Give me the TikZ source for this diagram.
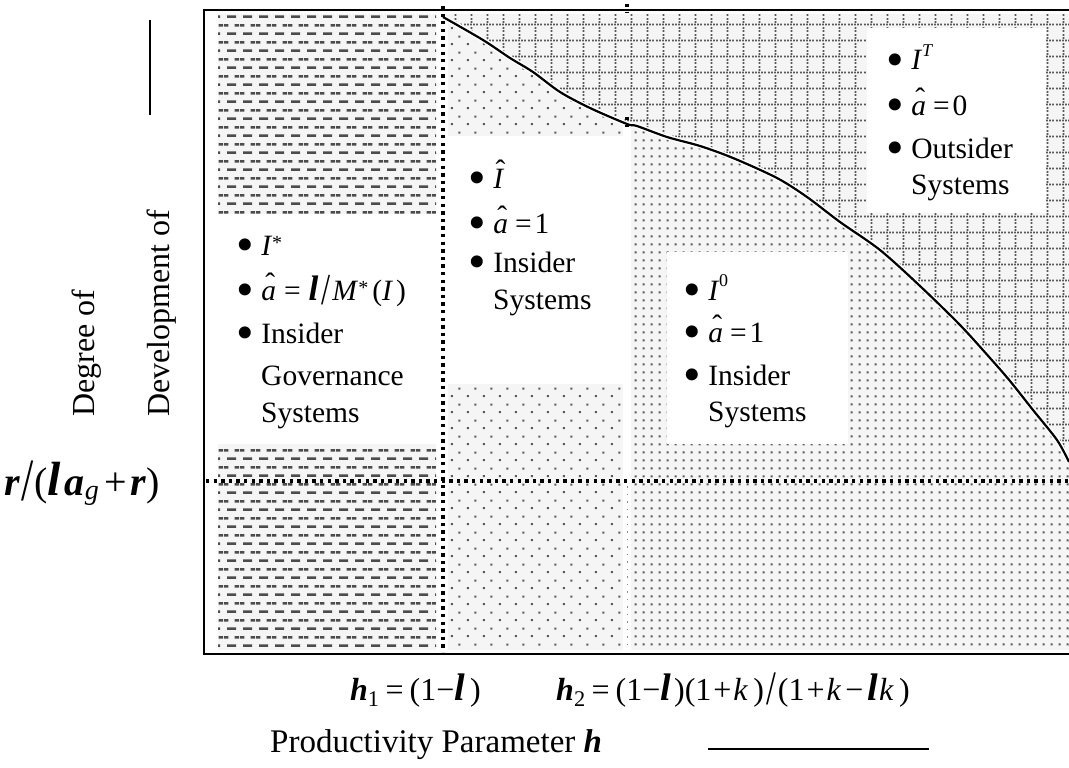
\documentclass[tikz,border=0pt]{standalone}
\usepackage{fontspec}
\setmainfont{Liberation Serif}
\usetikzlibrary{patterns}

\pgfdeclarepatternformonly{hdash}{\pgfpointorigin}{\pgfpoint{16pt}{17.4pt}}{\pgfpoint{16pt}{17.4pt}}{
 \pgfpathrectangle{\pgfpoint{3.25pt}{0pt}}{\pgfpoint{9.5pt}{2.6pt}}
 \pgfpathrectangle{\pgfpoint{0pt}{8.7pt}}{\pgfpoint{4.75pt}{2.6pt}}
 \pgfpathrectangle{\pgfpoint{11.25pt}{8.7pt}}{\pgfpoint{4.75pt}{2.6pt}}
 \pgfusepath{fill}}
\pgfdeclarepatternformonly{sdots}{\pgfpointorigin}{\pgfpoint{16pt}{16pt}}{\pgfpoint{16pt}{16pt}}{
 \pgfpathrectangle{\pgfpoint{3pt}{3pt}}{\pgfpoint{2.2pt}{2.2pt}}
 \pgfpathrectangle{\pgfpoint{11pt}{11pt}}{\pgfpoint{2.2pt}{2.2pt}}
 \pgfusepath{fill}}
\pgfdeclarepatternformonly{ddots}{\pgfpointorigin}{\pgfpoint{8pt}{8pt}}{\pgfpoint{8pt}{8pt}}{
 \pgfpathrectangle{\pgfpoint{3pt}{3pt}}{\pgfpoint{2.2pt}{2.2pt}}
 \pgfusepath{fill}}
\pgfdeclarepatternformonly{dgrid}{\pgfpointorigin}{\pgfpoint{16pt}{16pt}}{\pgfpoint{16pt}{16pt}}{
 \pgfpathrectangle{\pgfpoint{0pt}{7pt}}{\pgfpoint{2pt}{2pt}}
 \pgfpathrectangle{\pgfpoint{3.2pt}{7pt}}{\pgfpoint{2pt}{2pt}}
 \pgfpathrectangle{\pgfpoint{6.4pt}{7pt}}{\pgfpoint{2pt}{2pt}}
 \pgfpathrectangle{\pgfpoint{9.6pt}{7pt}}{\pgfpoint{2pt}{2pt}}
 \pgfpathrectangle{\pgfpoint{12.8pt}{7pt}}{\pgfpoint{2pt}{2pt}}
 \pgfpathrectangle{\pgfpoint{7pt}{0pt}}{\pgfpoint{2pt}{2pt}}
 \pgfpathrectangle{\pgfpoint{7pt}{3.2pt}}{\pgfpoint{2pt}{2pt}}
 \pgfpathrectangle{\pgfpoint{7pt}{9.6pt}}{\pgfpoint{2pt}{2pt}}
 \pgfpathrectangle{\pgfpoint{7pt}{12.8pt}}{\pgfpoint{2pt}{2pt}}
 \pgfusepath{fill}}

\newcommand\bfi[1]{\textbf{\textit{#1}}}
\newcommand\lam{\scalebox{1.2}{\bfi{l}}}
\newcommand\hatit[2]{\leavevmode\ooalign{\textit{#1}\cr\hidewidth\kern0.12em\raisebox{#2}{\char"02C6}\hidewidth\cr}}
\newcommand\ahat{\hatit{a}{0.22em}}
\newcommand\sups[1]{\raisebox{0.45em}{\fontsize{18}{18}\selectfont #1}}
\newcommand\astr{\raisebox{0.2em}{\fontsize{20}{20}\selectfont *}}
\newcommand\bigsl{\raisebox{-0.14em}{\scalebox{1.1}[1.5]{/}}}
\newcommand\bul{\raisebox{-6.8pt}{\scalebox{1.7}{•}}\hspace{7.3pt}}

\begin{document}
\begin{tikzpicture}[x=1pt,y=-1pt,
  boxtext/.style={anchor=base west, inner sep=0pt, font=\fontsize{29.5}{35}\selectfont},
  axtext/.style={anchor=base west, inner sep=0pt, font=\fontsize{32}{38}\selectfont},
  whitebox/.style={fill=white, draw=none},
  bgfill/.style={fill=black!4},
  dotln/.style={line width=3.3pt, dash pattern=on 3.3pt off 4.3pt},
  frameln/.style={line width=2.8pt},
  curveln/.style={line width=2.2pt, line join=round}]
\path[use as bounding box] (0,0) rectangle (1069,768);

% left column dashes
\fill[bgfill] (218,14) rectangle (436,650);
\fill[pattern=hdash, pattern color=black!70] (218,14) rectangle (436,650);
% grid above curve
\fill[bgfill] (446,14) -- plot[smooth, tension=0.5] coordinates {(443,17) (483,40) (510,58) (533,72) (560,92) (590,108) (627,124) (637,126) (667,137) (700,146) (733,158) (777,178) (807,197) (840,222) (880,250) (920,286) (960,325) (990,358) (1010,381) (1033,410) (1057,440) (1069,462)} -- (1069,14) -- cycle;
\fill[pattern=dgrid, pattern color=black!65] (446,14) -- plot[smooth, tension=0.5] coordinates {(443,17) (483,40) (510,58) (533,72) (560,92) (590,108) (627,124) (637,126) (667,137) (700,146) (733,158) (777,178) (807,197) (840,222) (880,250) (920,286) (960,325) (990,358) (1010,381) (1033,410) (1057,440) (1069,462)} -- (1069,14) -- cycle;
% dots below curve
\begin{scope}
\clip plot[smooth, tension=0.5] coordinates {(443,17) (483,40) (510,58) (533,72) (560,92) (590,108) (627,124) (637,126) (667,137) (700,146) (733,158) (777,178) (807,197) (840,222) (880,250) (920,286) (960,325) (990,358) (1010,381) (1033,410) (1057,440) (1069,462)} -- (1069,652) -- (443,652) -- cycle;
\fill[whitebox] (443,10) rectangle (1069,652);
\fill[bgfill] (448,14) rectangle (623,650);
\fill[bgfill] (631,14) rectangle (1069,650);
\fill[pattern=sdots, pattern color=black!65] (448,14) rectangle (623,650);
\fill[pattern=ddots, pattern color=black!65] (631,14) rectangle (1069,650);
\end{scope}

% white text boxes
\fill[whitebox] (206,214) rectangle (440,444);
\fill[whitebox] (447,136) rectangle (623,384);
\fill[whitebox] (667,252) rectangle (848,444);
\fill[whitebox] (867,28) rectangle (1046,213);

% boundary curve
\draw[white, line width=5pt] plot[smooth, tension=0.5] coordinates {(443,17) (483,40) (510,58) (533,72) (560,92) (590,108) (627,124) (637,126) (667,137) (700,146) (733,158) (777,178) (807,197) (840,222) (880,250) (920,286) (960,325) (990,358) (1010,381) (1033,410) (1057,440) (1069,462)};
\draw[curveln] plot[smooth, tension=0.5] coordinates {(443,17) (483,40) (510,58) (533,72) (560,92) (590,108) (627,124) (637,126) (667,137) (700,146) (733,158) (777,178) (807,197) (840,222) (880,250) (920,286) (960,325) (990,358) (1010,381) (1033,410) (1057,440) (1069,462)};

% dotted threshold lines
\coordinate (v1t) at (443,6);  \coordinate (v1b) at (443,652);
\coordinate (hl) at (206,481); \coordinate (hr) at (1069,481);
\coordinate (v2t) at (627,4);  \coordinate (v2m) at (627,12);
\coordinate (v2c) at (627,117); \coordinate (v2d) at (627,127);
\coordinate (v2e) at (627,486); \coordinate (v2f) at (627,651);
\draw[dotln] (v1t) -- (v1b);
\draw[dotln] (hl) -- (hr);
\draw[dotln] (v2t) -- (v2m);
\draw[dotln] (v2c) -- (v2d);
\draw[black!45, line width=1pt, dash pattern=on 1.5pt off 6pt] (v2e) -- (v2f);

% frame
\coordinate (ftr) at (1069,10); \coordinate (ftl) at (204,10);
\coordinate (fbl) at (204,654); \coordinate (fbr) at (1069,654);
\draw[frameln] (ftr) -- (ftl) -- (fbl) -- (fbr);

% left box
\node[boxtext] (l1) at (236.2,255) {\bul\textit{I}\astr};
\node[boxtext] (l2) at (236.2,300) {\bul\ahat\hspace{8pt}=\hspace{8pt}\lam\hspace{3pt}\bigsl\hspace{2pt}\textit{M}\astr\hspace{4pt}(\textit{I}\hspace{3pt})};
\node[boxtext] (l3) at (236.2,343) {\bul Insider};
\node[boxtext] (l4) at (261,385) {Governance};
\node[boxtext] (l5) at (261,422) {Systems};

% middle box
\node[boxtext] (m1) at (468.2,188) {\bul\hatit{I}{0.26em}};
\node[boxtext] (m2) at (468.2,233) {\bul\ahat\hspace{7pt}=\hspace{3pt}1};
\node[boxtext] (m3) at (468.2,272) {\bul Insider};
\node[boxtext] (m4) at (493,309) {Systems};

% I0 box
\node[boxtext] (r1) at (683.2,300) {\bul\textit{I}\sups{0}};
\node[boxtext] (r2) at (683.2,342) {\bul\ahat\hspace{7pt}=\hspace{3pt}1};
\node[boxtext] (r3) at (683.2,385) {\bul Insider};
\node[boxtext] (r4) at (708,421) {Systems};

% IT box
\node[boxtext] (t1) at (886.2,70) {\bul\textit{I}\sups{\textit{T}}};
\node[boxtext] (t2) at (886.2,115) {\bul\ahat\hspace{7pt}=\hspace{3pt}0};
\node[boxtext] (t3) at (886.2,158) {\bul Outsider};
\node[boxtext] (t4) at (911,194) {Systems};

% axis labels
\node[axtext, rotate=90] (ylab1) at (94,417) {Degree of};
\node[axtext, rotate=90] (ylab2) at (169,417) {Development of};
\coordinate (yl1) at (150,20); \coordinate (yl2) at (150,115);
\draw[line width=2pt] (yl1) -- (yl2);
\node[axtext, font=\fontsize{40}{46}\selectfont] (ythr) at (4,495) {\bfi{r}\hspace{1pt}\bigsl\hspace{1pt}(\lam\hspace{4pt}\bfi{a}\textsubscript{\textit{g}}\hspace{5pt}+\hspace{4pt}\bfi{r})};
\node[axtext] (xh1) at (350,700) {\bfi{h}\textsubscript{1}\hspace{6pt}=\hspace{6pt}(1−\lam\hspace{5pt})};
\node[axtext] (xh2) at (556,700) {\bfi{h}\textsubscript{2}\hspace{6pt}=\hspace{6pt}(1−\lam\hspace{3pt})(1\hspace{2pt}+\hspace{2pt}\textit{k}\,)\hspace{2pt}\bigsl\hspace{2pt}(1\hspace{2pt}+\hspace{2pt}\textit{k}\hspace{4pt}−\hspace{4pt}\lam\hspace{1pt}\textit{k}\,)};
\node[axtext, font=\fontsize{33}{40}\selectfont] (xlab) at (270,752) {Productivity Parameter \bfi{h}};
\coordinate (xl1) at (708,749); \coordinate (xl2) at (929,749);
\draw[line width=2pt] (xl1) -- (xl2);
\end{tikzpicture}
\end{document}
